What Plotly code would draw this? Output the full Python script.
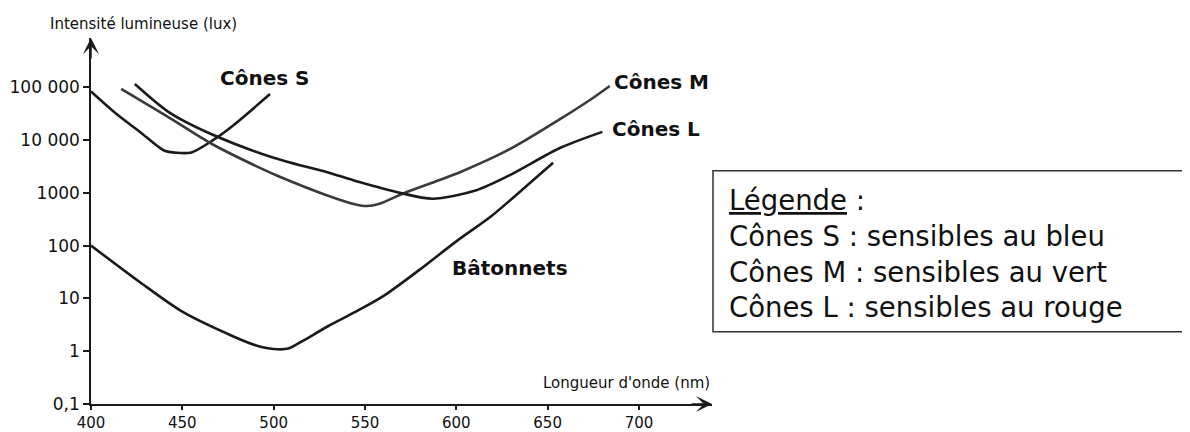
import plotly.graph_objects as go

# ---- data ----
wl_S = [400, 414, 427, 440, 447, 455, 467, 478, 498]
lux_S = [83000, 31000, 14000, 6300, 5700, 5800, 10000, 19000, 74000]

wl_M = [416.5, 441, 467, 492.5, 502, 529, 545, 551, 558, 571, 602, 629, 657, 675, 684]
lux_M = [93000, 29000, 8100, 2950, 2100, 900, 600, 560, 620, 970, 2450, 6600, 25000, 63000, 105000]

wl_L = [424, 443, 467, 500, 532, 547, 569, 587, 611, 629, 657, 680]
lux_L = [115000, 33000, 12400, 4600, 2300, 1600, 1000, 770, 1120, 2130, 7100, 14200]

wl_R = [400, 427, 450, 478, 490, 500, 508, 515, 530, 545, 560, 580, 600, 620, 640, 653]
lux_R = [100, 20, 5.6, 1.9, 1.3, 1.1, 1.12, 1.5, 3.0, 5.6, 11, 35, 120, 380, 1500, 3700]

x_ticks = [400, 450, 500, 550, 600, 650, 700]
y_ticks = [0.1, 1, 10, 100, 1000, 10000, 100000]
y_ticktext = ["0,1", "1", "10", "100", "1000", "10 000", "100 000"]

legend_lines = ["<u>Légende</u> :",
                "Cônes S : sensibles au bleu",
                "Cônes M : sensibles au vert",
                "Cônes L : sensibles au rouge"]

FONT = "DejaVu Sans"
INK = "#1a1a1a"

fig = go.Figure()
for wl, lux, col in [(wl_S, lux_S, INK), (wl_M, lux_M, "#3a3a3a"),
                     (wl_L, lux_L, INK), (wl_R, lux_R, INK)]:
    fig.add_trace(go.Scatter(x=wl, y=lux, mode="lines",
                             line=dict(color=col, width=2.6, shape="spline", smoothing=0.8),
                             showlegend=False, hoverinfo="skip", cliponaxis=False))

# the page body has an 8px margin, so the figure is 8px smaller and shifted
fig.update_layout(
    width=1182, height=424,
    margin=dict(l=83, r=478, t=30, b=28, autoexpand=False),
    paper_bgcolor="white", plot_bgcolor="white",
    font=dict(family=FONT, color="#111"),
    showlegend=False,
)
fig.update_xaxes(range=[400, 740], tickvals=x_ticks, ticks="outside", ticklen=4,
                 tickwidth=1.5, tickcolor=INK, showline=True, linecolor=INK, linewidth=1.5,
                 showgrid=False, zeroline=False, automargin=False,
                 tickfont=dict(size=15, family=FONT, color="#111"))
fig.update_yaxes(type="log", range=[-1, 5.93], tickvals=y_ticks, ticktext=y_ticktext,
                 ticks="outside", ticklen=6, tickwidth=1.5, tickcolor=INK,
                 showline=True, linecolor=INK, linewidth=1.5, showgrid=False, zeroline=False,
                 automargin=False, tickfont=dict(size=17, family=FONT, color="#111"))

# axis arrowheads
fig.add_annotation(x=740, y=-1, xref="x", yref="y", ax=-22, ay=0, text="",
                   showarrow=True, arrowhead=3, arrowsize=1.8, arrowwidth=1.5, arrowcolor=INK)
fig.add_annotation(x=400, y=5.93, xref="x", yref="y", ax=0, ay=22, text="",
                   showarrow=True, arrowhead=3, arrowsize=1.8, arrowwidth=1.5, arrowcolor=INK)

# axis titles
fig.add_annotation(x=-0.069, y=1.038, xref="paper", yref="paper", xanchor="left", yanchor="middle",
                   text="Intensité lumineuse (lux)", showarrow=False,
                   font=dict(size=15, family=FONT, color="#111"))
fig.add_annotation(x=1.0, y=0.0574, xref="paper", yref="paper", xanchor="right", yanchor="middle",
                   text="Longueur d'onde (nm)", showarrow=False,
                   font=dict(size=15, family=FONT, color="#111"))

# curve labels
bold = dict(size=20, family=FONT, color="#111")
fig.add_annotation(x=469.5, y=5.17, xref="x", yref="y", xanchor="left", yanchor="middle",
                   text="<b>Cônes S</b>", showarrow=False, font=bold)
fig.add_annotation(x=wl_M[-1] + 1.5, y=5.10, xref="x", yref="y", xanchor="left", yanchor="middle",
                   text="<b>Cônes M</b>", showarrow=False, font=bold)
fig.add_annotation(x=wl_L[-1] + 4, y=4.205, xref="x", yref="y", xanchor="left", yanchor="middle",
                   text="<b>Cônes L</b>", showarrow=False, font=bold)
fig.add_annotation(x=596.5, y=1.58, xref="x", yref="y", xanchor="left", yanchor="middle",
                   text="<b>Bâtonnets</b>", showarrow=False, font=bold)

# legend box
fig.add_shape(type="rect", xref="paper", yref="paper", x0=1.0016, x1=1.768, y0=0.1975, y1=0.6374,
              line=dict(color="#333", width=1.5), fillcolor="rgba(0,0,0,0)")
fig.add_annotation(x=1.0237, y=0.6066, xref="paper", yref="paper", xanchor="left", yanchor="top",
                   align="left", text="<br>".join(legend_lines), showarrow=False,
                   font=dict(size=27.5, family=FONT, color="#111"))

fig.write_html("out.html")
